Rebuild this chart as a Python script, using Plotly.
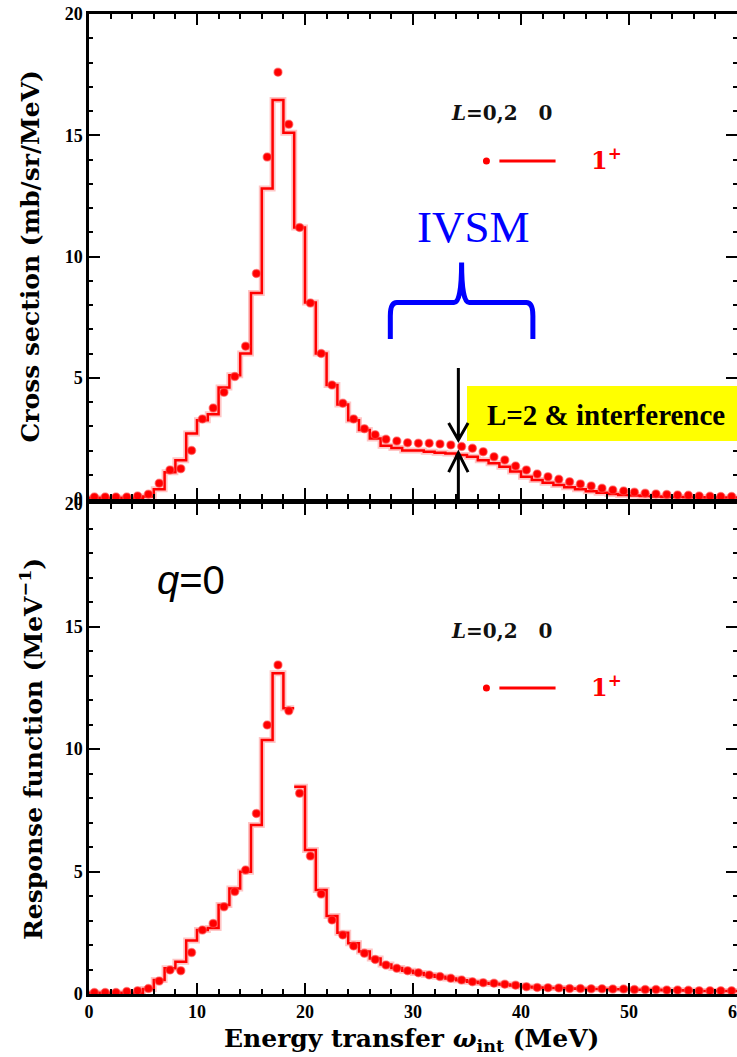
import plotly.graph_objects as go

# ---------------- data (1 MeV bins, 0-60 MeV) ----------------
bin_edges = list(range(0, 61))
bin_centers = [k + 0.5 for k in range(60)]

# Cross section (mb/sr/MeV): histogram and dotted result
xs_hist = [0.05, 0.05, 0.05, 0.05, 0.05, 0.1, 0.4, 1.1, 1.6, 2.7,
           3.25, 3.5, 4.6, 5.1, 6.0, 8.5, 12.8, 16.45, 15.1, 11.2,
           8.1, 6.0, 4.7, 3.9, 3.25, 2.85, 2.5, 2.2, 2.1, 2.0,
           2.0, 1.95, 1.91, 1.88, 1.81, 1.74, 1.6, 1.47, 1.33, 1.13,
           0.92, 0.78, 0.67, 0.58, 0.48, 0.4, 0.32, 0.26, 0.21, 0.17,
           0.14, 0.12, 0.1, 0.08, 0.08, 0.07, 0.07, 0.06, 0.06, 0.06]
xs_dots = [0.08, 0.08, 0.08, 0.08, 0.12, 0.2, 0.65, 1.2, 1.25, 2.0,
           3.3, 3.75, 4.4, 5.05, 6.3, 9.3, 14.1, 17.6, 15.45, 11.2,
           8.08, 6.0, 4.7, 3.95, 3.3, 2.9, 2.65, 2.46, 2.39, 2.32,
           2.3, 2.3, 2.27, 2.23, 2.16, 2.09, 1.95, 1.74, 1.61, 1.36,
           1.2, 1.03, 0.92, 0.81, 0.71, 0.62, 0.54, 0.44, 0.37, 0.33,
           0.28, 0.24, 0.21, 0.19, 0.16, 0.15, 0.12, 0.11, 0.1, 0.1]

# Response function (MeV^-1) at q=0
rf_hist = [0.05, 0.05, 0.05, 0.05, 0.05, 0.2, 0.57, 1.05, 1.32, 2.18,
           2.61, 2.69, 3.63, 4.31, 4.99, 6.9, 10.37, 13.09, 11.66, 8.46,
           5.88, 4.24, 3.18, 2.5, 2.07, 1.73, 1.45, 1.2, 1.06, 0.95,
           0.86, 0.78, 0.7, 0.63, 0.56, 0.5, 0.45, 0.42, 0.39, 0.35,
           0.3, 0.27, 0.25, 0.24, 0.22, 0.21, 0.2, 0.2, 0.19, 0.19,
           0.17, 0.17, 0.17, 0.15, 0.15, 0.14, 0.12, 0.12, 0.12, 0.12]
rf_dots = [0.06, 0.06, 0.06, 0.1, 0.13, 0.22, 0.53, 0.98, 0.95, 1.69,
           2.61, 2.88, 3.56, 4.18, 5.06, 7.37, 10.98, 13.43, 11.56, 8.19,
           5.63, 4.08, 3.02, 2.41, 1.96, 1.66, 1.41, 1.18, 1.05, 0.95,
           0.87, 0.78, 0.71, 0.64, 0.57, 0.50, 0.46, 0.44, 0.40, 0.36,
           0.30, 0.27, 0.26, 0.25, 0.22, 0.22, 0.21, 0.21, 0.20, 0.20,
           0.18, 0.18, 0.18, 0.16, 0.16, 0.15, 0.13, 0.13, 0.13, 0.13]
rf_breaks = [19]  # histogram edge where the step line is interrupted

x_ticks = [0, 10, 20, 30, 40, 50, 60]
y_ticks = [0, 5, 10, 15, 20]

RED = "#ff0000"
SERIF = "DejaVu Serif"


def step_xy(vals, edges, breaks=()):
    xs, ys = [], []
    for k, v in enumerate(vals):
        if k in breaks:
            xs += [edges[k], None]
            ys += [vals[k - 1], None]
        xs.append(edges[k])
        ys.append(v)
    xs.append(edges[len(vals)])
    ys.append(vals[-1])
    return xs, ys


fig = go.Figure()


def add_panel(hist, dots, xa, ya, breaks=()):
    sx, sy = step_xy(hist, bin_edges, breaks)
    fig.add_trace(go.Scatter(x=sx, y=sy, mode="lines", line_shape="hv",
                             line=dict(color="rgba(255,90,90,0.35)", width=6),
                             xaxis=xa, yaxis=ya, showlegend=False, hoverinfo="skip"))
    fig.add_trace(go.Scatter(x=sx, y=sy, mode="lines", line_shape="hv",
                             line=dict(color=RED, width=2.5),
                             xaxis=xa, yaxis=ya, showlegend=False))
    fig.add_trace(go.Scatter(x=bin_centers, y=dots, mode="markers",
                             marker=dict(color=RED, size=8,
                                         line=dict(color="rgba(255,80,80,0.55)", width=1.5)),
                             xaxis=xa, yaxis=ya, showlegend=False))


add_panel(xs_hist, xs_dots, "x", "y")
add_panel(rf_hist, rf_dots, "x2", "y2", rf_breaks)

tickfont = dict(family="Liberation Serif", size=18, color="black", weight="bold")
common = dict(showline=True, linecolor="black", linewidth=2.5, mirror="ticks",
              ticks="inside", ticklen=11, tickwidth=2, tickcolor="black",
              showgrid=False, zeroline=False, tickfont=tickfont, automargin=False,
              ticklabeloverflow="allow")

xcommon = dict(common, range=[0, 60], tickvals=x_ticks,
               minor=dict(dtick=2, ticks="inside", ticklen=5, tickwidth=1.5, tickcolor="black"))
ycommon = dict(common, range=[0, 20], tickvals=y_ticks,
               minor=dict(dtick=1, ticks="inside", ticklen=4, tickwidth=1.5, tickcolor="black"))

fig.update_layout(
    width=737, height=1057,
    margin=dict(l=89, r=0, t=14, b=63),
    paper_bgcolor="white", plot_bgcolor="white",
    xaxis=dict(xcommon, domain=[0, 1], anchor="y", showticklabels=False),
    yaxis=dict(ycommon, domain=[0.5051, 1.0], anchor="x"),
    xaxis2=dict(xcommon, domain=[0, 1], anchor="y2", showticklabels=True),
    yaxis2=dict(ycommon, domain=[0.0, 0.5], anchor="x2"),
)

title_font = dict(family=SERIF, size=25, color="black", weight="bold")
annotations = [
    dict(text="Cross section (mb/sr/MeV)", xref="paper", yref="paper",
         x=-0.0895, y=0.7525, textangle=-90, showarrow=False,
         xanchor="center", yanchor="middle", font=title_font),
    dict(text="Response function (MeV<sup>\u22121</sup>)", xref="paper", yref="paper",
         x=-0.0895, y=0.25, textangle=-90, showarrow=False,
         xanchor="center", yanchor="middle", font=title_font),
    dict(text="Energy transfer <i>\u03c9</i><sub>int</sub> (MeV)", xref="paper", yref="paper",
         x=0.498, y=-0.047, showarrow=False, xanchor="center", yanchor="middle",
         font=title_font),
]

legend_font = dict(family=SERIF, size=20, color="#111111", weight="bold")
for xa, ya, y_head, y_row in (("x", "y", 15.9, 13.94), ("x2", "y2", 14.8, 12.49)):
    annotations.append(dict(text="<i>L</i>=0,2\u00a0\u00a0\u00a00", xref=xa, yref=ya,
                            x=38.2, y=y_head, showarrow=False, xanchor="center",
                            yanchor="middle", font=legend_font))
    annotations.append(dict(text="1<sup>+</sup>", xref=xa, yref=ya, x=47.9, y=y_row + 0.1,
                            showarrow=False, xanchor="center", yanchor="middle",
                            font=dict(family=SERIF, size=24, color=RED, weight="bold")))

annotations += [
    dict(text="IVSM", xref="x", yref="y", x=35.6, y=11.2, showarrow=False,
         xanchor="center", yanchor="middle",
         font=dict(family="Liberation Serif", size=45, color="#0000ff")),
    dict(text="<b>L=2 &amp; interference</b>", xref="x", yref="y", x=47.9, y=3.48,
         showarrow=False, xanchor="center", yanchor="middle",
         font=dict(family="Liberation Serif", size=29, color="black")),
    dict(text="<i>q</i>=0", xref="x2", yref="y2", x=9.45, y=16.9, showarrow=False,
         xanchor="center", yanchor="middle",
         font=dict(family="Liberation Sans", size=40, color="black")),
]

# curly brace over the IVSM region
bl, br, bc, yb, yh, yt = 27.9, 41.1, 34.5, 6.6, 8.1, 9.75
brace = (f"M {bl},{yb} L {bl},{yh - 0.55} Q {bl},{yh} {bl + 0.6},{yh} "
         f"L {bc - 0.7},{yh} Q {bc},{yh} {bc},{yt} Q {bc},{yh} {bc + 0.7},{yh} "
         f"L {br - 0.6},{yh} Q {br},{yh} {br},{yh - 0.55} L {br},{yb}")

ax = 34.2
shapes = [
    dict(type="path", path=brace, xref="x", yref="y",
         line=dict(color="#0000ff", width=5), layer="above"),
    dict(type="rect", xref="x", yref="y", x0=35.0, x1=60.0, y0=2.39, y1=4.66,
         fillcolor="#ffff00", line=dict(width=0), layer="above"),
    # downward arrow onto the dotted curve
    dict(type="path", xref="x", yref="y", layer="above",
         path=f"M {ax},5.4 L {ax},2.43 M {ax - 0.9},3.13 L {ax},2.43 L {ax + 0.9},3.13",
         line=dict(color="black", width=3)),
    # upward arrow onto the histogram
    dict(type="path", xref="x", yref="y", layer="above",
         path=f"M {ax},-0.05 L {ax},1.9 M {ax - 0.9},1.11 L {ax},1.9 L {ax + 0.9},1.11",
         line=dict(color="black", width=3)),
]

# legend samples: dot and line segment
for xa, ya, y_row in (("x", "y", 13.94), ("x2", "y2", 12.49)):
    shapes.append(dict(type="circle", xref=xa, yref=ya, xsizemode="pixel", ysizemode="pixel",
                       xanchor=36.8, yanchor=y_row, x0=-3.5, x1=3.5, y0=-3.5, y1=3.5,
                       fillcolor=RED, line=dict(width=0)))
    shapes.append(dict(type="line", xref=xa, yref=ya, x0=38.0, x1=43.2, y0=y_row, y1=y_row,
                       line=dict(color=RED, width=3)))

fig.update_layout(annotations=annotations, shapes=shapes)

fig.write_html("out.html")
